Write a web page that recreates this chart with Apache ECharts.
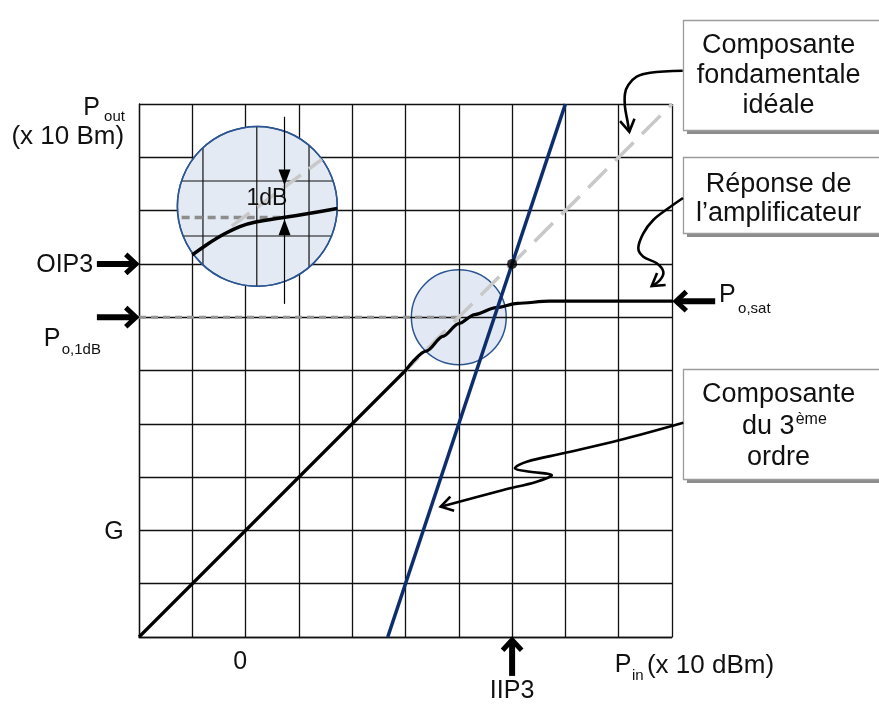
<!DOCTYPE html>
<html>
<head>
<meta charset="utf-8">
<script src="https://cdn.jsdelivr.net/npm/echarts@6/dist/echarts.min.js"></script>
<style>
  html, body {margin: 0; padding: 0; background: #fff; overflow: hidden;}
  #chart {width: 879px; height: 711px;}
</style>
</head>
<body>
<div id="chart"></div>
<script>
// grid units: 1 cell = 10 dB(m), both axes 0..10
const linearRegion = [[0, 0], [5.0, 5.0]];
const compressionCurve = [[5.0, 5.0], [5.4, 5.37], [5.7, 5.64], [6.0, 5.88], [6.3, 6.05], [6.7, 6.18], [7.1, 6.26], [7.7, 6.3], [8.5, 6.3], [10, 6.3]];
const idealFundamental = [[4.9, 4.9], [10, 10]];
const thirdOrder = [[4.667, 0], [8, 10]];
const p1dBLevel = [[0, 6], [6.02, 6]];
const interceptPoint = [[7, 7]];

// magnified view inside the big circle
const zoomResponse = [[1.0, 7.17], [1.27, 7.36], [1.58, 7.55], [1.89, 7.7], [2.21, 7.79], [2.71, 7.87], [3.21, 7.95], [3.72, 8.04]];
const zoomIdeal = [[1.74, 7.71], [3.43, 8.96]];
const zoomP1dB = [[0.8, 7.87], [2.74, 7.87]];
const zoomGridX = [1.2, 2.21, 3.19];
const zoomGridY = [8.555, 7.523];
const gainMarkerX = 2.73;
const gainMarkerSpan = [9.76, 6.25];
const gainArrowTips = [8.47, 7.84];

// [cx, cy, r]
const smallCircle = [[6, 6, 0.89]];
const bigCircle = [[2.22, 8.08, 1.5]];

// [text, x, y, fontSize, align]
const axisTexts = [
  ["P", -0.89, 9.93, 25, "center"],
  ["out", -0.46, 9.75, 15, "center"],
  ["(x 10 Bm)", -0.28, 9.38, 26, "right"],
  ["OIP3", -0.86, 6.98, 25, "right"],
  ["P", -1.63, 5.59, 25, "center"],
  ["o,1dB", -1.45, 5.39, 15, "left"],
  ["G", -0.47, 1.97, 25, "center"],
  ["0", 1.9, -0.47, 25, "center"],
  ["P", 9.08, -0.52, 25, "center"],
  ["in", 9.25, -0.73, 15, "left"],
  ["(x 10 dBm)", 9.53, -0.54, 26, "left"],
  ["IIP3", 7, -1.02, 25, "center"],
  ["P", 11.04, 6.42, 25, "center"],
  ["o,sat", 11.24, 6.15, 15, "left"],
  ["1dB", 2.4, 8.22, 23, "center"]
];

// callout boxes [left, top, right, bottom] and their lines
const calloutBoxes = [[10.206, 11.576, 20, 9.512], [10.206, 9.006, 20, 7.58], [10.206, 5.028, 20, 2.964]];
const calloutTexts = [
  ["Composante", 12.0, 11.1, 27, "center"],
  ["fondamentale", 12.0, 10.54, 27, "center"],
  ["idéale", 12.0, 9.98, 27, "center"],
  ["Réponse de", 12.0, 8.48, 27, "center"],
  ["l\u2019amplificateur", 12.0, 7.95, 27, "center"],
  ["Composante", 12.0, 4.54, 27, "center"],
  ["du 3", 12.3, 3.94, 27, "right"],
  ["ème", 12.32, 4.07, 16, "left"],
  ["ordre", 12.0, 3.36, 27, "center"]
];
const calloutPaths = [
  [[10.2, 10.625], [9.59, 10.587], [9.337, 10.512], [9.18, 10.356], [9.118, 10.193], [9.118, 9.944], [9.162, 9.694], [9.199, 9.48]],
  [[10.206, 8.236], [9.931, 8.043], [9.649, 7.824], [9.462, 7.574], [9.368, 7.292], [9.462, 7.135], [9.713, 7.011], [9.837, 6.854], [9.775, 6.698], [9.619, 6.585]],
  [[10.212, 4.021], [9.024, 3.696], [7.961, 3.446], [7.274, 3.289], [7.054, 3.165], [7.336, 3.101], [7.743, 3.039], [7.462, 2.914], [6.835, 2.758], [5.66, 2.445]]
];
// thick level markers [from, to]
const levelArrows = [
  [[-0.79, 7], [0, 7]],
  [[-0.79, 6], [0, 6]],
  [[10.81, 6.3], [10.02, 6.3]],
  [[7, -0.73], [7, 0]]
];

const FONT = "'Liberation Sans', Arial, Helvetica, sans-serif";
const chart = echarts.init(document.getElementById("chart"));

function circleRender(fill, withGrid) {
  return function (params, api) {
    const cx = api.value(0), cy = api.value(1), r = api.value(2);
    const c = api.coord([cx, cy]);
    const rp = api.coord([cx + r, cy])[0] - c[0];
    const children = [{
      type: "circle",
      shape: {cx: c[0], cy: c[1], r: rp},
      style: {fill: fill, stroke: "#2c5592", lineWidth: 1.5}
    }];
    if (withGrid) {
      zoomGridX.forEach(x => {
        const px = api.coord([x, cy])[0];
        const h = Math.sqrt(Math.max(rp * rp - (px - c[0]) * (px - c[0]), 0));
        children.push({type: "line", shape: {x1: px, y1: c[1] - h, x2: px, y2: c[1] + h}, style: {stroke: "#111", lineWidth: 1.2}});
      });
      zoomGridY.forEach(y => {
        const py = api.coord([cx, y])[1];
        const w = Math.sqrt(Math.max(rp * rp - (py - c[1]) * (py - c[1]), 0));
        children.push({type: "line", shape: {x1: c[0] - w, y1: py, x2: c[0] + w, y2: py}, style: {stroke: "#111", lineWidth: 1.2}});
      });
      children.push({
        type: "circle",
        shape: {cx: c[0], cy: c[1], r: rp},
        style: {fill: "none", stroke: "#2c5592", lineWidth: 1.5}
      });
    }
    return {type: "group", children};
  };
}

function headPoints(tip, from, len, spread) {
  const a = Math.atan2(tip[1] - from[1], tip[0] - from[0]);
  return [
    [tip[0] - len * Math.cos(a - spread), tip[1] - len * Math.sin(a - spread)],
    tip,
    [tip[0] - len * Math.cos(a + spread), tip[1] - len * Math.sin(a + spread)]
  ];
}

function textEl(t, api) {
  const p = api.coord([t[1], t[2]]);
  return {
    type: "text",
    style: {
      text: t[0], x: p[0], y: p[1], fill: "#111",
      font: t[3] + "px " + FONT,
      align: t[4], textAlign: t[4], verticalAlign: "middle", textVerticalAlign: "middle"
    }
  };
}

function renderAnnotations(params, api) {
  const children = [];
  calloutBoxes.forEach(b => {
    const a = api.coord([b[0], b[1]]), d = api.coord([b[2], b[3]]);
    children.push({type: "rect", shape: {x: a[0] + 4, y: a[1] + 4, width: d[0] - a[0], height: d[1] - a[1]}, style: {fill: "#8c8c8c"}});
    children.push({type: "rect", shape: {x: a[0] + 0.5, y: a[1] + 0.5, width: d[0] - a[0], height: d[1] - a[1]}, style: {fill: "#fff", stroke: "#9c9c9c", lineWidth: 1.3}});
  });
  calloutTexts.forEach(t => children.push(textEl(t, api)));
  axisTexts.forEach(t => children.push(textEl(t, api)));

  calloutPaths.forEach(path => {
    const pts = path.map(p => api.coord(p));
    children.push({type: "polyline", shape: {points: pts, smooth: 0.35}, style: {fill: "none", stroke: "#000", lineWidth: 2.6}});
    const n = pts.length;
    children.push({type: "polyline", shape: {points: headPoints(pts[n - 1], pts[n - 2], 14, 0.55)}, style: {fill: "none", stroke: "#000", lineWidth: 2.6}});
  });

  levelArrows.forEach(arr => {
    const from = api.coord(arr[0]), tip = api.coord(arr[1]);
    const a = Math.atan2(tip[1] - from[1], tip[0] - from[0]);
    const end = [tip[0] - 3 * Math.cos(a), tip[1] - 3 * Math.sin(a)];
    children.push({type: "line", shape: {x1: from[0], y1: from[1], x2: end[0], y2: end[1]}, style: {stroke: "#000", lineWidth: 6}});
    children.push({type: "polyline", shape: {points: headPoints(end, from, 14, 0.75)}, style: {fill: "none", stroke: "#000", lineWidth: 5, lineJoin: "miter"}});
  });

  // 1 dB gap marker
  const top = api.coord([gainMarkerX, gainMarkerSpan[0]]);
  const bottom = api.coord([gainMarkerX, gainMarkerSpan[1]]);
  children.push({type: "line", shape: {x1: top[0], y1: top[1], x2: bottom[0], y2: bottom[1]}, style: {stroke: "#000", lineWidth: 1.2}});
  const down = api.coord([gainMarkerX, gainArrowTips[0]]);
  const up = api.coord([gainMarkerX, gainArrowTips[1]]);
  children.push({type: "polygon", shape: {points: [[down[0] - 6, down[1] - 16], [down[0] + 6, down[1] - 16], down]}, style: {fill: "#000"}});
  children.push({type: "polygon", shape: {points: [[up[0] - 6, up[1] + 16], [up[0] + 6, up[1] + 16], up]}, style: {fill: "#000"}});
  return {type: "group", children};
}

const lineSeries = (name, data, color, width, type, z) => ({
  name, type: "line", data, z: z || 2,
  symbol: "none", silent: true, animation: false,
  lineStyle: {color, width, type: type || "solid", cap: "butt"}
});

chart.setOption({
  animation: false,
  grid: {left: 139, top: 104, width: 533, height: 533},
  xAxis: {
    type: "value", min: 0, max: 10, interval: 1,
    axisLine: {show: true, lineStyle: {color: "#111", width: 1.3}},
    axisTick: {show: false}, axisLabel: {show: false},
    splitLine: {show: true, lineStyle: {color: "#111", width: 1.3}}
  },
  yAxis: {
    type: "value", min: 0, max: 10, interval: 1,
    axisLine: {show: true, lineStyle: {color: "#111", width: 1.3}},
    axisTick: {show: false}, axisLabel: {show: false},
    splitLine: {show: true, lineStyle: {color: "#111", width: 1.3}}
  },
  series: [
    {type: "custom", data: smallCircle, z: -1, silent: true, clip: false, renderItem: circleRender("#e2e9f4", false)},
    lineSeries("p1dB", p1dBLevel, "#959595", 3, [7, 5]),
    lineSeries("ideal", idealFundamental, "#c8c8c8", 3.5, [26, 12]),
    lineSeries("linear", linearRegion, "#000", 3.2),
    {...lineSeries("compression", compressionCurve, "#000", 3.2), smooth: 0.3, smoothMonotone: "x", lineStyle: {color: "#000", width: 3.2, cap: "round", join: "round"}},
    lineSeries("third", thirdOrder, "#0d2d6c", 3.5),
    {type: "scatter", data: interceptPoint, symbolSize: 10, itemStyle: {color: "#000"}, silent: true, z: 5},
    {type: "custom", data: bigCircle, z: 6, silent: true, clip: false, renderItem: circleRender("#e3eaf4", true)},
    lineSeries("zoomP1dB", zoomP1dB, "#8d8d8d", 3.5, [8, 5], 7),
    lineSeries("zoomIdeal", zoomIdeal, "#c8c8c8", 3.5, [22, 10], 7),
    {...lineSeries("zoomResponse", zoomResponse, "#000", 3.5, "solid", 8), smooth: 0.3}
  ].concat([{type: "custom", data: [[0, 0]], z: 10, silent: true, clip: false, renderItem: renderAnnotations}])
});
</script>
</body>
</html>
